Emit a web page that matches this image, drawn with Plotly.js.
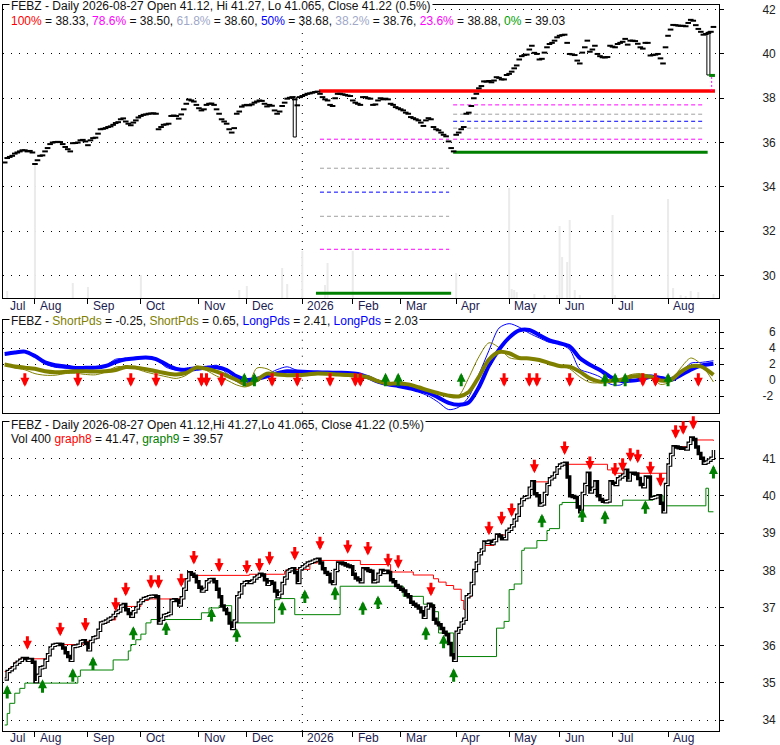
<!DOCTYPE html>
<html>
<head>
<meta charset="utf-8">
<script src="https://cdn.plot.ly/plotly-3.0.1.min.js"></script>
<style>
body { margin: 0; background: #fff; }
#chart { width: 780px; height: 745px; }
</style>
</head>
<body>
<div id="chart"></div>
<script>
// x is a trading-day index: 0 = 2025-07-16 ... 281 = 2026-08-27

// month starts (trading-day index) and their labels
const monthIdx = [-10, 12, 33, 54, 77, 96, 118, 138, 157, 179, 200, 220, 241, 263];
const monthLbl = ['Jul', 'Aug', 'Sep', 'Oct', 'Nov', 'Dec', '2026', 'Feb', 'Mar', 'Apr', 'May', 'Jun', 'Jul', 'Aug'];
const yearStartIdx = 118;

// daily closes
const closes = [
  35.10, 35.30, 35.35, 35.40, 35.50, 35.55, 35.60, 35.65, 35.65, 35.60,
  35.62, 35.55, 35.03, 35.20, 35.40, 35.42, 35.60, 35.75, 35.93, 36.00,
  36.02, 36.03, 36.02, 35.93, 35.80, 35.70, 35.60, 35.97, 35.98, 36.00,
  36.10, 36.12, 36.05, 35.88, 36.10, 36.20, 36.22, 36.40, 36.60, 36.62,
  36.65, 36.70, 36.73, 36.80, 36.88, 36.92, 37.05, 37.09, 36.95, 36.85,
  36.78, 36.90, 37.00, 37.13, 37.20, 37.25, 37.27, 37.30, 37.31, 37.32,
  37.30, 36.60, 36.70, 36.80, 36.82, 36.85, 37.20, 37.22, 37.20, 37.08,
  37.27, 37.50, 37.75, 37.94, 37.90, 37.85, 37.70, 37.55, 37.45, 37.50,
  37.70, 37.75, 37.76, 37.70, 37.50, 37.30, 37.05, 36.95, 36.85, 36.60,
  36.45, 36.65, 37.30, 37.40, 37.62, 37.68, 37.70, 37.68, 37.72, 37.80,
  37.85, 37.90, 37.88, 37.75, 37.63, 37.70, 37.66, 37.45, 37.30, 37.40,
  37.65, 37.80, 37.98, 38.02, 38.05, 37.95, 37.68, 38.05, 38.10, 38.15,
  38.20, 38.22, 38.25, 38.28, 38.30, 38.20, 38.05, 37.95, 37.90, 37.70,
  37.65, 38.00, 38.20, 38.20, 38.18, 38.15, 38.12, 38.10, 37.90, 37.80,
  37.75, 37.70, 38.05, 38.05, 38.00, 37.98, 37.70, 37.72, 37.90, 38.00,
  37.95, 37.98, 37.95, 37.75, 37.70, 37.60, 37.55, 37.50, 37.45, 37.35,
  37.30, 37.15, 37.10, 37.05, 37.00, 36.90, 36.75, 37.00, 37.10, 37.05,
  36.70, 36.60, 36.55, 36.45, 36.35, 36.28, 36.05, 35.75, 35.60, 36.35,
  36.45, 36.60, 36.70, 37.30, 37.35, 37.65, 38.00, 38.20, 38.45, 38.55,
  38.76, 38.75, 38.78, 38.72, 38.80, 38.95, 38.92, 38.85, 38.85, 39.05,
  39.10, 39.20, 39.35, 39.48, 39.75, 39.90, 39.95, 39.97, 40.20, 40.37,
  40.05, 40.00, 39.75, 39.78, 40.06, 40.30, 40.45, 40.50, 40.60, 40.75,
  40.82, 40.85, 40.87, 40.50, 40.00, 39.98, 39.95, 39.70, 39.57, 40.06,
  40.30, 40.60, 40.10, 40.20, 40.37, 40.00, 39.90, 39.85, 39.84, 39.86,
  40.37, 40.33, 40.30, 40.45, 40.50, 40.55, 40.68, 40.42, 40.60, 40.60,
  40.58, 40.46, 40.30, 40.24, 40.50, 40.50, 39.93, 39.95, 39.97, 40.00,
  39.80, 39.57, 40.30, 40.82, 41.10, 41.31, 41.30, 41.28, 41.27, 41.27,
  41.25, 41.40, 41.54, 41.50, 41.30, 41.13, 41.00, 40.87, 40.90, 40.95,
  41.00, 41.22
];

// the two tall candles of the top panel
const bigIdx = [115, 279];
const bigOpen = [36.25, 39.05];
const bigClose = [38.06, 40.99];

// volume (only the days with a visible bar)
const volIdx = [1, 12, 27, 33, 54, 93, 96, 110, 112, 118, 127, 128, 138, 179, 200, 201, 202, 203, 210, 214,
  219, 220, 221, 223, 224, 226, 228, 241, 242, 263, 265, 268, 270, 272, 275, 281];
const volVal = [700, 13300, 1500, 1100, 2300, 800, 1200, 3000, 1400, 4700, 1300, 3500, 4700, 2500, 11000, 900, 800, 600, 400, 300,
  300, 7200, 4100, 3600, 7800, 800, 300, 8300, 300, 9900, 1000, 300, 200, 700, 600, 400];

// fibonacci retracements
const fibHigh = 38.33;
const fibHighSpan = [124.6, 281.6];
const fibLeftLow = 29.2, fibLeftLowSpan = [123.4, 177];
const fibLeftLevels = [36.15, 34.84, 33.76, 32.67, 31.18];
const fibLeftSpan = [125, 176.2];
const fibRightLow = 35.56, fibRightLowSpan = [177.8, 278.7];
const fibRightLevels = [37.70, 37.28, 36.96, 36.65, 36.15];
const fibRightSpan = [177.8, 276.9];
const fibLastLow = 39.03, fibLastSpan = [279.3, 281.6];
const fibLevelColors = ['#ff00ff', '#a0a0a0', '#0000ff', '#a0a0a0', '#ff00ff'];

// oscillator panel, sampled every 4 days
const oscX = [0, 4, 8, 12, 16, 20, 24, 28, 32, 36, 40, 44, 48, 52, 56, 60, 64, 68, 72, 76,
  80, 84, 88, 92, 96, 100, 104, 108, 112, 116, 120, 124, 128, 132, 136, 140, 144, 148, 152, 156,
  160, 164, 168, 172, 176, 180, 184, 188, 192, 196, 200, 204, 208, 212, 216, 220, 224, 228, 232, 236,
  240, 244, 248, 252, 256, 260, 264, 268, 272, 276, 281];
const longSmooth = [3.25, 3.45, 3.55, 3.0, 2.2, 1.85, 1.7, 1.5, 1.52, 1.55, 1.75, 2.25, 2.6, 2.72, 2.8, 2.62, 1.95, 1.4, 1.25, 1.4,
  1.55, 1.6, 1.25, 0.45, 0.0, 0.15, 0.45, 0.85, 1.1, 1.05, 1.0, 0.96, 0.95, 0.9, 0.88, 0.75, 0.35, -0.2, -0.55, -0.75,
  -1.0, -1.3, -1.6, -2.2, -2.85, -3.1, -2.8, -0.9, 1.8, 3.8, 5.3, 6.2, 6.25, 5.6, 4.95, 4.6, 4.2, 2.75, 1.9, 1.25,
  0.42, -0.1, -0.1, 0.05, 0.42, 0.25, 0.0, 0.6, 1.3, 1.8, 2.03];
const longRaw = [3.15, 3.5, 3.6, 2.9, 2.0, 1.6, 1.48, 1.46, 1.46, 1.46, 1.8, 2.6, 2.7, 2.85, 2.85, 2.6, 1.6, 1.25, 1.5, 1.65,
  1.55, 1.85, 0.85, -0.2, -0.35, 0.2, 0.7, 1.3, 1.65, 1.2, 1.0, 1.0, 0.9, 0.8, 0.7, 0.6, 0.3, 0.0, -0.55, -0.8,
  -1.0, -1.5, -2.0, -2.8, -3.7, -3.4, -2.1, 0.7, 3.7, 6.5, 7.05, 6.6, 5.85, 5.25, 4.7, 4.5, 3.8, 1.35, 0.9, 0.4,
  -0.5, -0.63, 0.2, 0.55, 0.63, 0.45, 0.3, 0.9, 2.1, 2.2, 2.41];
const shortSmooth = [1.95, 1.7, 1.55, 1.4, 1.1, 0.98, 1.02, 1.1, 1.1, 1.05, 1.1, 1.25, 1.62, 1.55, 1.35, 1.1, 0.85, 0.7, 0.9, 1.55,
  1.4, 1.05, 0.55, 0.0, -0.6, 0.0, 0.8, 0.7, 0.6, 0.62, 0.7, 0.82, 0.78, 0.7, 0.63, 0.55, 0.35, -0.15, -0.45, -0.4,
  -0.55, -0.9, -1.3, -1.65, -1.95, -2.05, -1.5, 0.4, 2.55, 3.5, 3.35, 2.75, 2.7, 2.5, 2.1, 1.75, 1.67, 1.05, 0.2, -0.2,
  -0.12, 0.0, 0.4, 0.5, 0.4, -0.05, 0.0, 1.0, 1.7, 1.7, 0.65];
const shortRaw = [2.05, 1.5, 1.28, 0.8, 0.6, 0.6, 0.8, 0.85, 0.7, 0.65, 1.0, 1.62, 1.67, 1.4, 1.0, 0.7, 0.42, 0.2, 0.6, 1.75,
  1.2, 0.5, 0.0, -0.62, -0.83, 1.5, 1.4, 0.75, 0.7, 0.8, 0.82, 0.72, 0.66, 0.6, 0.45, 0.3, 0.15, -0.35, -0.55, -0.55,
  -0.75, -1.0, -1.35, -1.75, -2.05, -1.95, 0.3, 2.9, 4.65, 4.05, 2.8, 2.6, 2.75, 2.6, 2.0, 1.8, 1.4, 0.4, -0.3, -0.35,
  -0.15, -0.05, 0.65, 0.8, 0.5, -0.55, -0.2, 1.5, 2.75, 2.0, -0.25];
const oscSellIdx = [8, 29, 50, 60, 78, 80, 86, 106, 116, 129, 139, 141, 198, 208, 211, 224, 253, 258, 275];
const oscBuyIdx = [95, 99, 151, 156, 181, 238, 242, 246, 263];

// bottom panel: graph8 (resistance) and graph9 (support) steps
const g8X = [0, 2, 4, 6, 17, 18, 19, 31, 35, 37, 38, 41, 44, 46, 54, 57, 71, 72, 73, 97, 111, 112, 121, 124, 141, 153,
  162, 170, 172, 175, 178, 181, 182, 183, 185, 186, 187, 188, 189, 190, 194, 195, 199, 200, 201, 202, 203, 204, 205,
  206, 208, 209, 216, 217, 218, 219, 220, 222, 239, 241, 263, 264, 265, 271, 272, 281];
const g8Y = [35.3, 35.4, 35.55, 35.64, 35.75, 35.93, 36.02, 36.1, 36.2, 36.4, 36.62, 36.68, 36.9, 37.04, 37.2, 37.24, 37.5, 37.75, 37.87, 37.9, 37.98, 38.03, 38.2, 38.27, 38.16, 37.96,
  37.88, 37.78, 37.69, 37.6, 37.5, 37.2, 36.96, 37.3, 37.65, 38.0, 38.2, 38.45, 38.55, 38.67, 38.8, 38.95, 39.05, 39.1, 39.2, 39.35, 39.48, 39.75, 39.9,
  39.95, 40.2, 40.37, 40.45, 40.5, 40.6, 40.75, 40.82, 40.84, 40.69, 40.6, 40.82, 41.1, 41.31, 41.4, 41.49, 41.47];
const g9X = [0, 1, 2, 4, 6, 8, 29, 30, 43, 49, 50, 52, 54, 56, 58, 78, 81, 85, 90, 107, 109, 115, 133, 158, 166, 170,
  172, 178, 195, 198, 200, 202, 205, 206, 211, 215, 216, 220, 221, 227, 245, 257, 261, 278, 279, 281];
const g9Y = [33.87, 34.18, 34.45, 34.72, 34.85, 34.99, 35.17, 35.34, 35.61, 35.85, 36.02, 36.15, 36.3, 36.6, 36.69, 36.87, 37.0, 37.06, 36.6, 37.22, 37.25, 36.82, 37.58, 37.31, 37.1, 36.9,
  36.33, 35.7, 36.46, 36.64, 37.49, 37.64, 38.54, 38.6, 38.8, 39.07, 39.12, 39.76, 39.82, 39.73, 39.88, 40.0, 39.73, 40.2, 39.57, 39.57];

// bottom panel signals: day and price at the arrow tip
const sellIdx = [9, 22, 32, 44, 48, 58, 61, 70, 75, 85, 96, 101, 105, 115, 125, 136, 144, 152, 156, 169, 192, 197, 201,
  210, 222, 232, 242, 245, 248, 251, 256, 260, 266, 269, 273];
const sellAt = [35.88, 36.24, 36.37, 36.91, 37.31, 37.51, 37.51, 37.55, 38.16, 37.96, 37.91, 37.96, 38.14, 38.27, 38.54, 38.45, 38.4, 38.09, 38.05, 37.31, 38.94, 39.21, 39.43,
  40.6, 41.09, 40.69, 40.51, 40.64, 40.91, 40.87, 40.55, 40.24, 41.52, 41.63, 41.76];
const buyIdx = [1, 15, 27, 35, 51, 64, 82, 92, 110, 119, 131, 142, 148, 167, 174, 178, 213, 229, 238, 254, 281];
const buyAt = [34.94, 35.09, 35.39, 35.70, 36.51, 36.64, 37.0, 36.46, 37.18, 37.49, 37.58, 37.18, 37.33, 36.51, 36.28, 35.39, 39.52, 39.66, 39.61, 39.88, 40.82];

const RED = '#ff0000';
const GREEN = '#008000';
const OLIVE = '#808000';
const BLUE = '#0000ff';
const dots = '1px,7px';

const days = closes.map((c, i) => i);

// up days get a white core so the step line looks hollow
const upX = [], upY = [];
for (let i = 1; i < closes.length; i++) {
  if (closes[i] > closes[i - 1]) {
    upX.push(i - 1, i, null);
    upY.push(closes[i - 1], closes[i], null);
  }
}

function hline(span, level, color, width, dash, xa, ya) {
  return {
    x: span, y: [level, level], xaxis: xa, yaxis: ya, type: 'scatter', mode: 'lines',
    line: {color: color, width: width, dash: dash}, hoverinfo: 'skip'
  };
}

let data = [];

// top panel
data.push({
  x: volIdx, y: volVal, xaxis: 'x3', yaxis: 'y3', type: 'bar', width: 0.8,
  marker: {color: '#ebebeb', line: {width: 0}}, hoverinfo: 'skip'
});
fibLeftLevels.forEach((lv, i) => data.push(hline(fibLeftSpan, lv, fibLevelColors[i], 1, '4px,3px', 'x3', 'y4')));
fibRightLevels.forEach((lv, i) => data.push(hline(fibRightSpan, lv, fibLevelColors[i], 1, '4px,3px', 'x3', 'y4')));
data.push(hline(fibHighSpan, fibHigh, RED, 3.5, 'solid', 'x3', 'y4'));
data.push(hline(fibLeftLowSpan, fibLeftLow, GREEN, 3, 'solid', 'x3', 'y4'));
data.push(hline(fibRightLowSpan, fibRightLow, GREEN, 3, 'solid', 'x3', 'y4'));
data.push(hline(fibLastSpan, fibLastLow, GREEN, 3, 'solid', 'x3', 'y4'));
data.push({
  x: [fibLastSpan[0] + 1, fibLastSpan[0] + 1], y: [fibHigh, fibLastLow], xaxis: 'x3', yaxis: 'y4',
  mode: 'lines', line: {color: '#ff00ff', width: 1, dash: '2px,2px'}, hoverinfo: 'skip'
});
data.push({
  x: bigIdx, base: bigOpen, y: bigClose.map((c, i) => c - bigOpen[i]), xaxis: 'x3', yaxis: 'y4',
  type: 'bar', width: 1.2, marker: {color: '#ffffff', line: {color: '#000', width: 1}}, hoverinfo: 'skip'
});
data.push({
  x: days, y: closes, xaxis: 'x3', yaxis: 'y4', mode: 'markers',
  marker: {symbol: 'line-ew', size: 4, line: {color: '#000', width: 2}}, hoverinfo: 'skip'
});

// oscillator panel
data.push({x: oscX, y: longRaw, xaxis: 'x2', yaxis: 'y2', mode: 'lines',
  line: {color: BLUE, width: 1, shape: 'spline', smoothing: 0.8}, hoverinfo: 'skip'});
data.push({x: oscX, y: shortRaw, xaxis: 'x2', yaxis: 'y2', mode: 'lines',
  line: {color: OLIVE, width: 1, shape: 'spline', smoothing: 0.8}, hoverinfo: 'skip'});
data.push({x: oscX, y: longSmooth, xaxis: 'x2', yaxis: 'y2', mode: 'lines',
  line: {color: BLUE, width: 4, shape: 'spline', smoothing: 0.8}, hoverinfo: 'skip'});
data.push({x: oscX, y: shortSmooth, xaxis: 'x2', yaxis: 'y2', mode: 'lines',
  line: {color: OLIVE, width: 4, shape: 'spline', smoothing: 0.8}, hoverinfo: 'skip'});

// bottom panel
data.push({x: g9X, y: g9Y, xaxis: 'x', yaxis: 'y', mode: 'lines',
  line: {color: GREEN, width: 1, shape: 'hv'}, hoverinfo: 'skip'});
data.push({x: g8X, y: g8Y, xaxis: 'x', yaxis: 'y', mode: 'lines',
  line: {color: RED, width: 1, shape: 'hv'}, hoverinfo: 'skip'});
data.push({x: days, y: closes, xaxis: 'x', yaxis: 'y', mode: 'lines',
  line: {color: '#000', width: 3.5, shape: 'hv'}, hoverinfo: 'skip'});
data.push({x: upX, y: upY, xaxis: 'x', yaxis: 'y', mode: 'lines', connectgaps: false,
  line: {color: '#fff', width: 1.2, shape: 'hv'}, hoverinfo: 'skip'});

const monthTicks = monthIdx.filter(m => m >= 0);

const xCommon = {
  range: [-0.67, 283.2], tickvals: monthTicks, showticklabels: false, ticklen: 5, tickcolor: '#000',
  showline: true, mirror: true, linecolor: '#000', linewidth: 1, showgrid: false, zeroline: false, fixedrange: true
};
const yCommon = {
  side: 'right', showline: true, mirror: true, linecolor: '#000', linewidth: 1,
  ticks: 'outside', ticklen: 4, tickcolor: '#000', showgrid: true, gridcolor: '#000', gridwidth: 1,
  griddash: dots, zeroline: false, ticklabelstandoff: 36, fixedrange: true,
  tickfont: {size: 12, color: '#222'}
};

const TXT = '#111';
const fibLegend = '<span style="color:#ff0000">100%</span> = 38.33, <span style="color:#ff00ff">78.6%</span> = 38.50, ' +
  '<span style="color:#a0a8c8">61.8%</span> = 38.60, <span style="color:#0000ff">50%</span> = 38.68, ' +
  '<span style="color:#a0a8c8">38.2%</span> = 38.76, <span style="color:#ff00ff">23.6%</span> = 38.88, ' +
  '<span style="color:#00a000">0%</span> = 39.03';
const oscLegend = 'FEBZ - <span style="color:#808000">ShortPds</span> = -0.25, <span style="color:#808000">ShortPds</span> = 0.65, ' +
  '<span style="color:#0000ff">LongPds</span> = 2.41, <span style="color:#0000ff">LongPds</span> = 2.03';
const volLegend = 'Vol 400 <span style="color:#ff0000">graph8</span> = 41.47, <span style="color:#008000">graph9</span> = 39.57';

function label(text, y, yshift, bg) {
  return {
    text: text, xref: 'paper', yref: 'paper', x: 0, y: y, xanchor: 'left', yanchor: 'middle',
    xshift: 6, yshift: yshift, showarrow: false, bgcolor: bg ? '#fff' : 'rgba(0,0,0,0)', borderpad: 1,
    font: {size: 12, color: TXT}
  };
}

let annotations = [
  label('FEBZ - Daily 2026-08-27 Open 41.12, Hi 41.27, Lo 41.065, Close 41.22 (0.5%)', 1, -1, true),
  label(fibLegend, 0.978, 0, false),
  label(oscLegend, 0.5665, -1.5, true),
  label('FEBZ - Daily 2026-08-27 Open 41.12,Hi 41.27,Lo 41.065, Close 41.22 (0.5%)', 0.4256, -2.5, true),
  label(volLegend, 0.4022, 0, false)
];

// month labels below the top and bottom panels
[0.5854, -0.0096].forEach(yy => {
  monthIdx.forEach((m, i) => annotations.push({
    text: monthLbl[i], xref: 'x', yref: 'paper', x: Math.max(m, 0), y: yy, xanchor: 'left', yanchor: 'middle',
    xshift: 3, showarrow: false, font: {size: 12, color: '#1c1c50'}
  }));
});

function arrow(xa, ya, x, y, color, down) {
  return {
    xref: xa, yref: ya, x: x, y: y, text: '', showarrow: true, ax: 0, ay: down ? -15 : 15,
    arrowcolor: color, arrowwidth: 3, arrowhead: 2, arrowsize: 0.6, standoff: 0
  };
}
sellIdx.forEach((d, i) => annotations.push(arrow('x', 'y', d, sellAt[i], RED, true)));
buyIdx.forEach((d, i) => annotations.push(arrow('x', 'y', d, buyAt[i], GREEN, false)));
oscSellIdx.forEach(d => annotations.push(arrow('x2', 'y2', d, -0.85, RED, true)));
oscBuyIdx.forEach(d => annotations.push(arrow('x2', 'y2', d, 0.9, GREEN, false)));

const shapes = [['x', 'y domain'], ['x2', 'y2 domain'], ['x3', 'y3 domain']].map(r => ({
  type: 'line', xref: r[0], yref: r[1], x0: yearStartIdx, x1: yearStartIdx, y0: 0, y1: 1,
  line: {color: '#000', width: 1, dash: dots}, layer: 'below'
}));

const layout = {
  width: 780, height: 745,
  margin: {l: 3, r: 61, t: 5, b: 14},
  paper_bgcolor: '#fff', plot_bgcolor: '#fff',
  showlegend: false, barmode: 'overlay',
  font: {family: 'Liberation Sans, Arial, sans-serif', size: 12, color: TXT},
  xaxis: Object.assign({}, xCommon, {anchor: 'y', ticks: 'outside'}),
  xaxis2: Object.assign({}, xCommon, {anchor: 'y2', ticks: ''}),
  xaxis3: Object.assign({}, xCommon, {anchor: 'y3', ticks: 'outside'}),
  yaxis: Object.assign({}, yCommon, {domain: [0, 0.4256], range: [33.71, 41.97], anchor: 'x',
    tickvals: [34, 35, 36, 37, 38, 39, 40, 41]}),
  yaxis2: Object.assign({}, yCommon, {domain: [0.4384, 0.5665], range: [-4.09, 7.54], anchor: 'x2',
    tickvals: [-2, 0, 2, 4, 6], ticktext: ['-2', '\u20070', '\u20072', '\u20074', '\u20076']}),
  yaxis3: {domain: [0.5964, 1], range: [0, 29300], anchor: 'x3', visible: false, fixedrange: true},
  yaxis4: Object.assign({}, yCommon, {overlaying: 'y3', anchor: 'x3', range: [28.98, 42.21],
    tickvals: [30, 32, 34, 36, 38, 40, 42]}),
  annotations: annotations,
  shapes: shapes
};

Plotly.newPlot('chart', data, layout, {displayModeBar: false, staticPlot: true});
</script>
</body>
</html>
